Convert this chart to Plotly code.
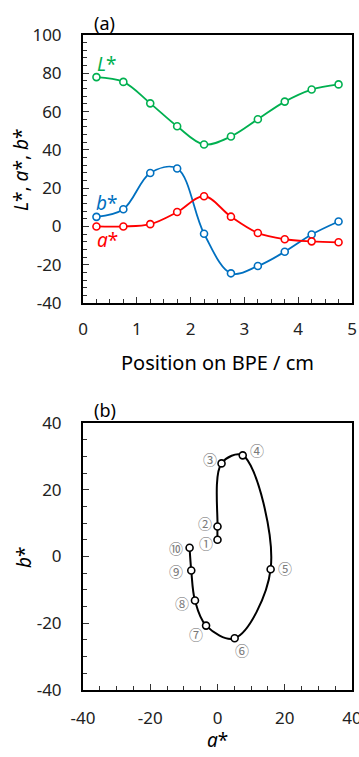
import plotly.graph_objects as go

# ---- data ----
position = [0.25, 0.75, 1.25, 1.75, 2.25, 2.75, 3.25, 3.75, 4.25, 4.75]
L_star = [78.0, 75.5, 64.3, 52.3, 42.8, 47.0, 56.0, 65.2, 71.5, 74.2]
a_star = [0.0, 0.0, 1.2, 7.5, 15.8, 5.1, -3.4, -6.7, -7.8, -8.3]
b_star = [5.0, 9.0, 27.9, 30.3, -3.8, -24.5, -20.7, -13.2, -4.2, 2.6]
point_labels = ["①", "②", "③", "④", "⑤", "⑥", "⑦", "⑧", "⑨", "⑩"]
label_a = [-3.4, -3.8, -2.2, 11.6, 20.0, 7.3, -6.4, -10.7, -12.4, -12.2]
label_b = [3.9, 10.0, 29.3, 32.0, -3.5, -28.0, -23.3, -13.8, -4.3, 2.6]

pos_ticks = [0, 1, 2, 3, 4, 5]
lab_ticks = [-40, -20, 0, 20, 40, 60, 80, 100]
ab_ticks = [-40, -20, 0, 20, 40]

GREEN = "#00B050"
BLUE = "#0070C0"
RED = "#FF0000"
FONT = "Noto Sans"

fig = go.Figure()

def add_series(x, y, color, xa, ya, width=1.8):
    fig.add_trace(go.Scatter(
        x=x, y=y, mode="lines+markers", xaxis=xa, yaxis=ya,
        line=dict(color=color, width=width, shape="spline", smoothing=1.0),
        marker=dict(symbol="circle", size=7, color="white",
                    line=dict(color=color, width=1.6)),
        showlegend=False, hoverinfo="skip"))

add_series(position, L_star, GREEN, "x", "y")
add_series(position, b_star, BLUE, "x", "y")
add_series(position, a_star, RED, "x", "y")
add_series(a_star, b_star, "black", "x2", "y2", 2.0)

W, H = 359, 757
xl, xr = 83 / W, 352 / W
top_a, bot_a = 1 - 35 / H, 1 - 303 / H
top_b, bot_b = 1 - 423 / H, 1 - 690 / H

def txt(v):
    return str(v)  # plain hyphen minus, as in reference

axis_common = dict(
    showgrid=False, zeroline=False, showline=True, mirror=True, automargin=False,
    linecolor="black", linewidth=2, ticks="inside", ticklen=6,
    tickcolor="#333", tickwidth=1, tickmode="array", ticklabeloverflow="allow",
    tickfont=dict(family=FONT, size=17, color="#222"),
)

fig.update_layout(
    width=W, height=H, margin=dict(l=0, r=0, t=0, b=0, autoexpand=False),
    paper_bgcolor="white", plot_bgcolor="white",
    xaxis=dict(domain=[xl, xr], anchor="y", range=[0, 5],
               tickvals=pos_ticks, ticktext=[txt(v) for v in pos_ticks],
               minor=dict(dtick=0.25, tick0=0, ticks="inside", ticklen=4, tickcolor="#333"),
               ticklabelstandoff=10, **axis_common),
    yaxis=dict(domain=[bot_a, top_a], anchor="x", range=[-40, 100],
               tickvals=lab_ticks, ticktext=[txt(v) for v in lab_ticks],
               minor=dict(dtick=4, tick0=0, ticks="inside", ticklen=4, tickcolor="#333"),
               ticklabelstandoff=16, **axis_common),
    xaxis2=dict(domain=[xl, xr], anchor="y2", range=[-40, 40],
                tickvals=ab_ticks, ticktext=[txt(v) for v in ab_ticks],
                minor=dict(dtick=5, tick0=0, ticks="inside", ticklen=4, tickcolor="#333"),
                ticklabelstandoff=12, **axis_common),
    yaxis2=dict(domain=[bot_b, top_b], anchor="x2", range=[-40, 40],
                tickvals=ab_ticks, ticktext=[txt(v) for v in ab_ticks],
                minor=dict(dtick=5, tick0=0, ticks="inside", ticklen=4, tickcolor="#333"),
                ticklabelstandoff=16, **axis_common),
)

def paper_text(x, y, text, size=19, angle=0):
    return dict(x=x / W, y=1 - y / H, xref="paper", yref="paper", text=text,
                showarrow=False, xanchor="center", yanchor="middle", textangle=angle,
                font=dict(family=FONT, size=size, color="black"))

ann = []
ann.append(dict(x=0.45, y=85, xref="x", yref="y", text="<i>L</i>*", showarrow=False,
                font=dict(family=FONT, size=19, color=GREEN)))
ann.append(dict(x=0.45, y=12, xref="x", yref="y", text="<i>b</i>*", showarrow=False,
                font=dict(family=FONT, size=19, color=BLUE)))
ann.append(dict(x=0.45, y=-7, xref="x", yref="y", text="<i>a</i>*", showarrow=False,
                font=dict(family=FONT, size=19, color=RED)))
ann.append(paper_text(104, 23, "(a)", 18))
ann.append(paper_text(105, 410, "(b)", 18))
ann.append(paper_text(217, 362, "Position on BPE / cm", 20))
ann.append(paper_text(21, 170, "<i>L</i>*, <i>a</i>*, <i>b</i>*", 19, -90))
ann.append(paper_text(24, 557, "<i>b</i>*", 19, -90))
ann.append(paper_text(217, 740, "<i>a</i>*", 19))
for lab, xa_, yb_ in zip(point_labels, label_a, label_b):
    ann.append(dict(x=xa_, y=yb_, xref="x2", yref="y2", text=lab, showarrow=False,
                    font=dict(family="Noto Sans CJK JP", size=14, color="#7a7a7a")))

fig.update_layout(annotations=ann)
fig.write_html("out.html")
